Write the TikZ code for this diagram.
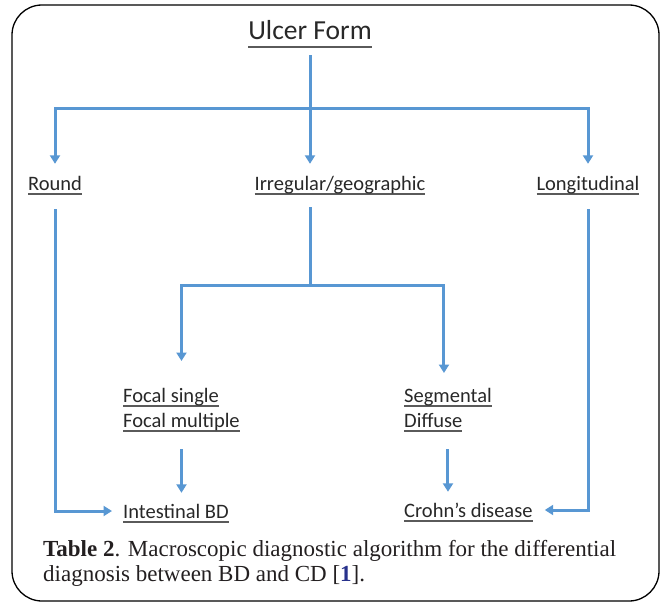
\documentclass[tikz,border=0pt]{standalone}
\usepackage{fontspec}
\setmainfont{Carlito}
\newfontfamily\capfont{Liberation Serif}
\usetikzlibrary{arrows.meta}
\definecolor{arrblue}{RGB}{88,151,211}
\definecolor{txtgray}{RGB}{40,40,40}
\definecolor{ulgray}{RGB}{90,90,90}
\definecolor{refblue}{RGB}{40,50,140}
\definecolor{captxt}{RGB}{35,31,32}
\newcommand\ulx[3]{\setbox0\hbox{#3}\leavevmode\rlap{\textcolor{ulgray}{\rule[-#1]{\wd0}{#2}}}\box0}
\newcommand\ulbl[1]{\ulx{5.2pt}{2pt}{#1}}
\begin{document}
\begin{tikzpicture}[x=1pt,y=-1pt,
  lbl/.style={anchor=base, inner sep=0pt, text height=14pt, text depth=6pt, text=txtgray,
              font=\fontsize{20.5}{25}\selectfont},
  lbl2/.style={anchor=north west, inner sep=0pt, align=left, text=txtgray,
              font=\fontsize{20.5}{25}\selectfont},
  line/.style={draw=arrblue, line width=3pt},
  arr/.style={line, -{Triangle[length=8.5pt,width=10pt]}},
  frame/.style={draw=black, line width=1.3pt, rounded corners=30pt}]
\useasboundingbox (0,0) rectangle (662,602);
\draw[frame] (12,5) rectangle (659,601);

\node[lbl, font=\fontsize{27.5}{30}\selectfont] (ulcer) at (310,40) {\ulx{8.3pt}{2.4pt}{Ulcer Form}};
\node[lbl] (round) at (55,190) {\ulbl{Round}};
\node[lbl] (irreg) at (340,190) {\ulbl{Irregular/geographic}};
\node[lbl] (longi) at (588,190) {\ulbl{Longitudinal}};
\node[lbl2] (focal) at (123,386) {\rule{0pt}{16pt}\ulbl{Focal single}\\\ulbl{Focal multiple}\rule[-7pt]{0pt}{7pt}};
\node[lbl2] (seg) at (404,386) {\rule{0pt}{16pt}\ulbl{Segmental}\\\ulbl{Diffuse}\rule[-7pt]{0pt}{7pt}};
\node[lbl, anchor=base west] (ibd) at (123,518) {\ulbl{Intestinal BD}};
\node[lbl, anchor=base west] (crohn) at (404,517) {\ulbl{Crohn’s disease}};

\coordinate (j1) at (310,109);
\coordinate (j2) at (310,285);
\draw[line, shorten <=9pt] (ulcer.south) -- (j1);
\draw[arr, shorten >=12pt] (j1) -| (round.north);
\draw[arr, shorten >=12pt] (j1) -- (j1 |- irreg.north);
\draw[arr, shorten >=12pt] (j1) -| (longi.north);
\draw[line, shorten <=11pt] (irreg.south -| j2) -- (j2);
\draw[arr, shorten >=25pt] (j2) -| (focal.north);
\draw[arr, shorten >=13pt] (j2) -| ([xshift=-4pt]seg.north);
\draw[arr, shorten <=15pt, shorten >=11pt] (focal.south) -- (focal.south |- ibd.north);
\draw[arr, shorten <=15pt, shorten >=11pt] (seg.south) -- (seg.south |- crohn.north);
\draw[arr, shorten <=13pt, shorten >=11pt] (round.south) |- ([yshift=3pt]ibd.west);
\draw[arr, shorten <=13pt, shorten >=12pt] (longi.south) |- ([yshift=3pt]crohn.east);

\node[anchor=north west, inner sep=0pt, align=left, text=captxt,
      font=\capfont\fontsize{23}{25}\selectfont] (cap) at (43,538)
  {\rule{0pt}{18pt}\textbf{Table 2}. Macroscopic diagnostic algorithm for the differential\\
   diagnosis between BD and CD [\textcolor{refblue}{\textbf{1}}].};
\end{tikzpicture}
\end{document}
